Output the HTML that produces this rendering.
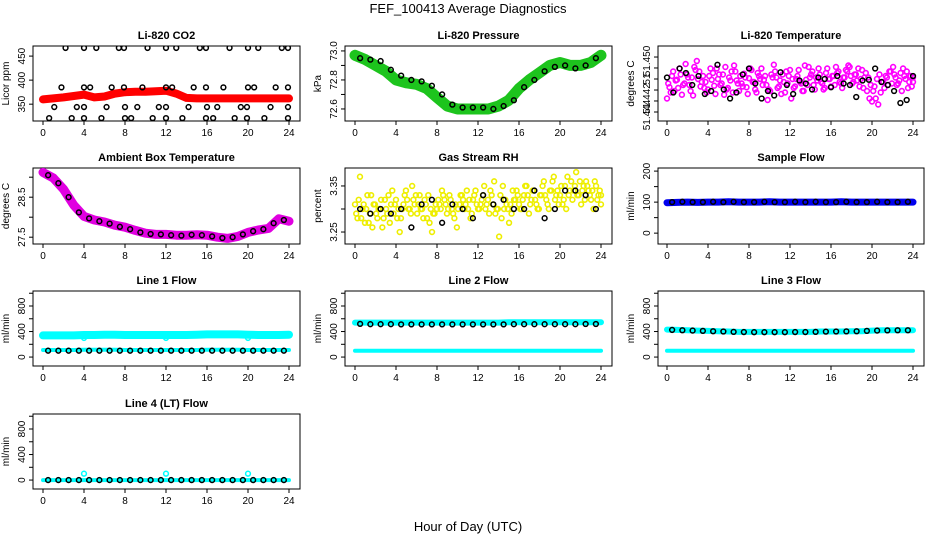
<!DOCTYPE html>
<html><head><meta charset="utf-8">
<style>
body{margin:0;background:#fff;}
svg{display:block;font-family:"Liberation Sans",sans-serif;}
</style></head>
<body>
<svg id="c" width="936" height="540" xmlns="http://www.w3.org/2000/svg">
<text x="468" y="13" text-anchor="middle" font-size="13">FEF_100413  Average Diagnostics</text>
<text x="468" y="531" text-anchor="middle" font-size="13">Hour of Day (UTC)</text>
</svg>
<script>
const bandHours=[0,1,2,3,4,5,6,7,8,9,10,11,12,13,14,15,16,17,18,19,20,21,22,23,24];
const halfHours=[0.5,1.5,2.5,3.5,4.5,5.5,6.5,7.5,8.5,9.5,10.5,11.5,12.5,13.5,14.5,15.5,16.5,17.5,18.5,19.5,20.5,21.5,22.5,23.5];
const xTicks=[0,4,8,12,16,20,24];

const co2Band=[360,362,364,367,370,364,366,372,375,376,376,377,378,372,363,362,362,362,362,362,362,362,362,362,362];
const co2PtH=[2.2,4,5.2,7.4,7.9,10.2,12,13,15.3,15.9,18.2,20,21,23.3,23.9, 1.8,4,4.6,6.7,7.9,9.7,12,12.6,14.7,15.9,17.6,20,20.6,22.7,23.9, 1.1,3.3,4,6.2,8,9.2,11.3,12,14.2,16,17,19.3,19.9,22.2,23.9, 0.6,2.8,4,5.7,8,8.6,10.7,12,13.6,15.9,16.6,18.7,19.9,21.6,23.9];
const co2PtV=[467,467,467,467,467,467,467,467,467,467,467,467,467,467,467, 385,385,385,385,385,385,385,385,385,385,385,385,385,385,385, 344,344,344,344,344,344,344,344,344,344,344,344,344,344,344, 321,321,321,321,321,321,321,321,321,321,321,321,321,321,321];

const presBand=[72.97,72.94,72.9,72.86,72.8,72.78,72.77,72.74,72.68,72.62,72.6,72.6,72.6,72.6,72.62,72.66,72.74,72.8,72.85,72.9,72.92,72.9,72.9,72.92,72.97];
const presPts=[72.95,72.94,72.93,72.87,72.83,72.8,72.79,72.76,72.7,72.63,72.61,72.61,72.61,72.6,72.62,72.66,72.75,72.8,72.86,72.89,72.9,72.88,72.9,72.95];

const tempCloud=[30,45,60,40,55,70,35,50,62,48,58,72,80,66,52,44,38,60,55,47,70,62,50,35,42,58,66,74,54,40,50,63,45,57,68,52,38,60,70,55,48,42,62,75,58,46,36,52,66,60,30,44,56,68,50,40,55,72,62,48,58,70,52,42,64,56,46,60,72,66,50,58,68,74,60,52,62,70,56,44,64,58,48,40,30,22,38,52,60,48,66,72,58,50,64,70,56,44,60,52];
const tempCloud2=[50,38,66,54,44,62,48,76,58,40,34,68,56,46,60,52,42,70,64,36,56,48,62,72,44,54,38,66,50,60,46,58,36,70,52,42,64,56,48,60,28,40,58,66,44,54,62,38,50,68,56,46,60,52,40,74,48,58,66,42,54,62,50,44,70,56,60,48,64,52,44,58,66,72,50,62,54,46,68,58,40,30,26,46,56,62,52,44,58,66,50,62,48,54,40,60,66,52,46,58];
const tempPts=[58,38,70,64,48,60,36,40,75,42,30,38,62,70,50,30,40,34,65,48,36,54,50,42,58,56,45,60,50,48,32,54,55,70,52,48,40,24,28,60];

const ambBand=[29.12,28.98,28.7,28.3,28.02,27.93,27.88,27.8,27.75,27.67,27.6,27.57,27.57,27.55,27.55,27.56,27.55,27.5,27.47,27.52,27.62,27.68,27.72,27.96,27.9];
const ambPts=[29.05,28.85,28.5,28.12,27.97,27.9,27.84,27.76,27.7,27.62,27.58,27.57,27.55,27.54,27.56,27.55,27.52,27.48,27.5,27.57,27.65,27.7,27.85,27.93];

const rhCloud=[3.31,3.28,3.37,3.3,3.27,3.33,3.29,3.26,3.31,3.28,3.3,3.26,3.32,3.29,3.27,3.34,3.31,3.28,3.25,3.3,3.33,3.32,3.3,3.35,3.31,3.29,3.33,3.3,3.32,3.28,3.27,3.25,3.29,3.3,3.31,3.34,3.32,3.29,3.33,3.3,3.28,3.26,3.31,3.33,3.3,3.34,3.32,3.29,3.33,3.31,3.3,3.32,3.35,3.31,3.29,3.33,3.36,3.3,3.24,3.28,3.3,3.31,3.27,3.29,3.32,3.34,3.31,3.3,3.33,3.35,3.29,3.32,3.34,3.31,3.3,3.33,3.36,3.32,3.3,3.34,3.37,3.33,3.31,3.35,3.32,3.3,3.33,3.36,3.34,3.38,3.33,3.31,3.35,3.36,3.34,3.32,3.3,3.35,3.33,3.31];
const rhCloud2=[3.29,3.32,3.28,3.31,3.3,3.27,3.33,3.31,3.29,3.3,3.32,3.28,3.3,3.33,3.31,3.29,3.32,3.3,3.28,3.31,3.34,3.3,3.29,3.32,3.33,3.31,3.3,3.28,3.31,3.33,3.3,3.29,3.31,3.32,3.3,3.33,3.31,3.3,3.32,3.29,3.31,3.3,3.33,3.32,3.31,3.3,3.28,3.32,3.34,3.3,3.31,3.33,3.3,3.32,3.34,3.31,3.29,3.3,3.33,3.35,3.32,3.3,3.31,3.34,3.32,3.33,3.3,3.32,3.35,3.33,3.31,3.34,3.32,3.3,3.33,3.35,3.33,3.31,3.34,3.36,3.32,3.34,3.33,3.31,3.35,3.37,3.34,3.32,3.35,3.33,3.36,3.34,3.32,3.35,3.33,3.34,3.36,3.32,3.34,3.33];
const rhPts=[3.3,3.29,3.3,3.29,3.3,3.26,3.31,3.32,3.27,3.31,3.3,3.28,3.33,3.31,3.32,3.3,3.3,3.34,3.28,3.3,3.34,3.34,3.33,3.3];

const sampleBand=[98,99,100,99,100,100,101,100,100,100,101,100,100,100,100,100,100,101,100,100,100,100,100,100,100];
const samplePts=[100,101,100,100,101,100,101,100,100,101,100,100,101,100,101,100,100,101,100,100,101,100,100,101];

const l1High=[340,340,340,340,345,345,350,350,345,345,345,345,345,345,345,350,355,355,355,355,350,345,345,345,350];
const l1Low=[110,110,110,110,115,115,115,115,110,110,110,110,110,110,110,110,115,115,115,115,110,110,110,110,110];
const l1Pts=[100,100,100,100,100,100,100,100,100,100,100,100,100,100,100,100,100,100,100,100,100,100,100,100];
const spikeH=[4,12,20];
const l1Spike=[300,300,300];

const l2High=[540,540,540,540,540,540,540,540,540,540,540,540,540,540,540,545,545,545,545,545,545,545,545,545,545];
const l2Low=[100,100,100,100,100,100,100,100,100,100,100,100,100,100,100,100,100,100,100,100,100,100,100,100,100];
const l2Pts=[520,515,515,515,512,512,512,512,512,512,512,512,512,512,512,515,515,515,515,515,515,515,518,518];

const l3High=[430,425,420,415,410,405,400,395,395,395,395,395,395,395,395,400,400,400,405,405,415,420,420,420,420];
const l3Low=[100,100,100,100,100,100,100,100,100,100,100,100,100,100,100,100,100,100,100,100,100,100,100,100,100];
const l3Pts=[425,420,415,410,405,400,395,392,390,390,390,390,392,392,395,398,400,402,405,410,415,418,420,420];

const l4Band=[0,0,0,0,0,0,0,0,0,0,0,0,0,0,0,0,0,0,0,0,0,0,0,0,0];
const l4Pts=[0,0,0,0,0,0,0,0,0,0,0,0,0,0,0,0,0,0,0,0,0,0,0,0];
const l4Spike=[100,100,100];

const NS='http://www.w3.org/2000/svg';
const svg=document.getElementById('c');
const colX=[{l:33,r:300,x0:43,x24:289},{l:345,r:612,x0:355,x24:601},{l:658,r:924,x0:667,x24:913}];
const rowY=[{t:46,b:121},{t:168,b:244},{t:291,b:366},{t:414,b:489}];
function mk(tag,attrs,parent){const e=document.createElementNS(NS,tag);for(const k in attrs)e.setAttribute(k,attrs[k]);(parent||svg).appendChild(e);return e;}

function panel(opt){
  const C=colX[opt.col],R=rowY[opt.row];
  const g=mk('g',{});
  
  
  const xs=h=>C.x0+h*(C.x24-C.x0)/24;
  const ys=v=>R.b-(v-opt.ymin)*(R.b-R.t)/(opt.ymax-opt.ymin);
  const t=mk('text',{x:(C.l+C.r)/2,y:R.t-7,'text-anchor':'middle','font-size':'11','font-weight':'bold'},g);
  t.textContent=opt.title;
  
  
  const box=mk('rect',{x:C.l,y:R.t,width:C.r-C.l,height:R.b-R.t,fill:'none',stroke:'#000','stroke-width':1},g);
  
  
  const xa=mk('g',{},g);
  
  
  mk('line',{x1:xs(0),x2:xs(24),y1:R.b,y2:R.b,stroke:'#000'},xa);
  xTicks.forEach(v=>{mk('line',{x1:xs(v),x2:xs(v),y1:R.b,y2:R.b+4,stroke:'#000'},xa);
    const tx=mk('text',{x:xs(v),y:R.b+15,'text-anchor':'middle','font-size':'10'},xa);tx.textContent=v;});
  const ya=mk('g',{},g);
  
  
  const tv=opt.yticks;
  mk('line',{x1:C.l,x2:C.l,y1:ys(tv[0]),y2:ys(tv[tv.length-1]),stroke:'#000'},ya);
  tv.forEach(v=>mk('line',{x1:C.l-4,x2:C.l,y1:ys(v),y2:ys(v),stroke:'#000'},ya));
  opt.ylabels.forEach((lab,i)=>{const y=ys(opt.ylabelVals[i]);
    const tx=mk('text',{x:C.l-8,y:y,'text-anchor':'middle','font-size':'10',transform:`rotate(-90 ${C.l-8} ${y})`},ya);tx.textContent=lab;});
  const yt=mk('text',{x:C.l-24,y:(R.t+R.b)/2,'text-anchor':'middle','font-size':'10',transform:`rotate(-90 ${C.l-24} ${(R.t+R.b)/2})`},g);
  yt.textContent=opt.ylab;
  
  
  const clip='clip'+opt.col+opt.row;
  const cp=mk('clipPath',{id:clip},g);mk('rect',{x:C.l,y:R.t,width:C.r-C.l,height:R.b-R.t},cp);
  const body=mk('g',{'clip-path':`url(#${clip})`},g);
  (opt.layers||[]).forEach(L=>{
    if(L.type==='band'){
      const d=L.vals.map((v,i)=>(i?'L':'M')+xs(L.hours[i]).toFixed(1)+' '+ys(v).toFixed(1)).join(' ');
      const p=mk('path',{d:d,fill:'none',stroke:L.color,'stroke-width':L.w,'stroke-linejoin':'round','stroke-linecap':'round'},body);
      
      
    } else {
      const n=L.vals.length;
      const off=L.offset||0;
      L.vals.forEach((v,i)=>{const h=L.hours?L.hours[i]:Math.min(24,i*24/(n-1)+off);
        const c=mk('circle',{cx:xs(h),cy:ys(v),r:L.r||2.4,fill:'none',stroke:L.color,'stroke-width':L.sw||1.5},body);
        
        });
    }
  });
}
const flowTicks=[0,200,400,600,800,1000];
const flowOpt={ymin:-140,ymax:1035,yticks:flowTicks,ylabels:['0','400','800'],ylabelVals:[0,400,800],ylab:'ml/min'};

panel({col:0,row:0,name:'co2-panel',title:'Li-820 CO2',ylab:'Licor ppm',ymin:315,ymax:471,yticks:[350,400,450],ylabels:['350','400','450'],ylabelVals:[350,400,450],
 layers:[{type:'band',name:'co2-band',hours:bandHours,vals:co2Band,color:'#f00',w:8},{type:'pts',name:'co2-point',hours:co2PtH,vals:co2PtV,color:'#000'}]});
panel({col:1,row:0,name:'pressure-panel',title:'Li-820 Pressure',ylab:'kPa',ymin:72.517,ymax:73.034,yticks:[72.6,72.7,72.8,72.9,73.0],ylabels:['72.6','72.8','73.0'],ylabelVals:[72.6,72.8,73.0],
 layers:[{type:'band',name:'pressure-band',hours:bandHours,vals:presBand,color:'#1dc41d',w:11},{type:'pts',name:'pressure-point',hours:halfHours,vals:presPts,color:'#000'}]});
panel({col:2,row:0,name:'li820-temp-panel',title:'Li-820 Temperature',ylab:'degrees C',ymin:0,ymax:100,yticks:[12,26.7,41.3,56,70.7,85.3],ylabels:['51.444','51.442','51','51.450'],ylabelVals:[8,30,56,80],
 layers:[{type:'pts',name:'temp-cloud-point',vals:tempCloud,color:'#f0f',sw:1.6},{type:'pts',name:'temp-cloud-point',vals:tempCloud2,offset:0.12,color:'#f0f',sw:1.6},{type:'pts',name:'temp-point',vals:tempPts,color:'#000'}]});
panel({col:0,row:1,name:'ambient-temp-panel',title:'Ambient Box Temperature',ylab:'degrees C',ymin:27.33,ymax:29.23,yticks:[27.5,28.0,28.5,29.0],ylabels:['27.5','28.5'],ylabelVals:[27.5,28.5],
 layers:[{type:'band',name:'ambient-band',hours:bandHours,vals:ambBand,color:'#e000e0',w:9},{type:'pts',name:'ambient-point',hours:halfHours,vals:ambPts,color:'#000'}]});
panel({col:1,row:1,name:'rh-panel',title:'Gas Stream RH',ylab:'percent',ymin:3.224,ymax:3.389,yticks:[3.25,3.30,3.35],ylabels:['3.25','3.35'],ylabelVals:[3.25,3.35],
 layers:[{type:'pts',name:'rh-cloud-point',vals:rhCloud,color:'#ee0',sw:1.6},{type:'pts',name:'rh-cloud-point',vals:rhCloud2,offset:0.12,color:'#ee0',sw:1.6},{type:'pts',name:'rh-point',hours:halfHours,vals:rhPts,color:'#000'}]});
panel({col:2,row:1,name:'sample-flow-panel',title:'Sample Flow',ylab:'ml/min',ymin:-35,ymax:210,yticks:[0,50,100,150,200],ylabels:['0','100','200'],ylabelVals:[0,100,200],
 layers:[{type:'band',name:'sample-band',hours:bandHours,vals:sampleBand,color:'#0000ee',w:7},{type:'pts',name:'sample-point',hours:halfHours,vals:samplePts,color:'#000'}]});
panel(Object.assign({col:0,row:2,name:'line1-panel',title:'Line 1 Flow',layers:[
 {type:'band',name:'line1-high-band',hours:bandHours,vals:l1High,color:'#0ff',w:8},{type:'band',name:'line1-low-band',hours:bandHours,vals:l1Low,color:'#0ff',w:4},
 {type:'pts',name:'line1-spike',hours:spikeH,vals:l1Spike,color:'#0ff'},{type:'pts',name:'line1-point',hours:halfHours,vals:l1Pts,color:'#000'}]},flowOpt));
panel(Object.assign({col:1,row:2,name:'line2-panel',title:'Line 2 Flow',layers:[
 {type:'band',name:'line2-high-band',hours:bandHours,vals:l2High,color:'#0ff',w:6},{type:'band',name:'line2-low-band',hours:bandHours,vals:l2Low,color:'#0ff',w:4},
 {type:'pts',name:'line2-point',hours:halfHours,vals:l2Pts,color:'#000'}]},flowOpt));
panel(Object.assign({col:2,row:2,name:'line3-panel',title:'Line 3 Flow',layers:[
 {type:'band',name:'line3-high-band',hours:bandHours,vals:l3High,color:'#0ff',w:6},{type:'band',name:'line3-low-band',hours:bandHours,vals:l3Low,color:'#0ff',w:4},
 {type:'pts',name:'line3-point',hours:halfHours,vals:l3Pts,color:'#000'}]},flowOpt));
panel(Object.assign({col:0,row:3,name:'line4-panel',title:'Line 4 (LT) Flow',layers:[
 {type:'band',name:'line4-band',hours:bandHours,vals:l4Band,color:'#0ff',w:4},
 {type:'pts',name:'line4-spike',hours:spikeH,vals:l4Spike,color:'#0ff'},{type:'pts',name:'line4-point',hours:halfHours,vals:l4Pts,color:'#000'}]},flowOpt));
</script>
</body></html>
